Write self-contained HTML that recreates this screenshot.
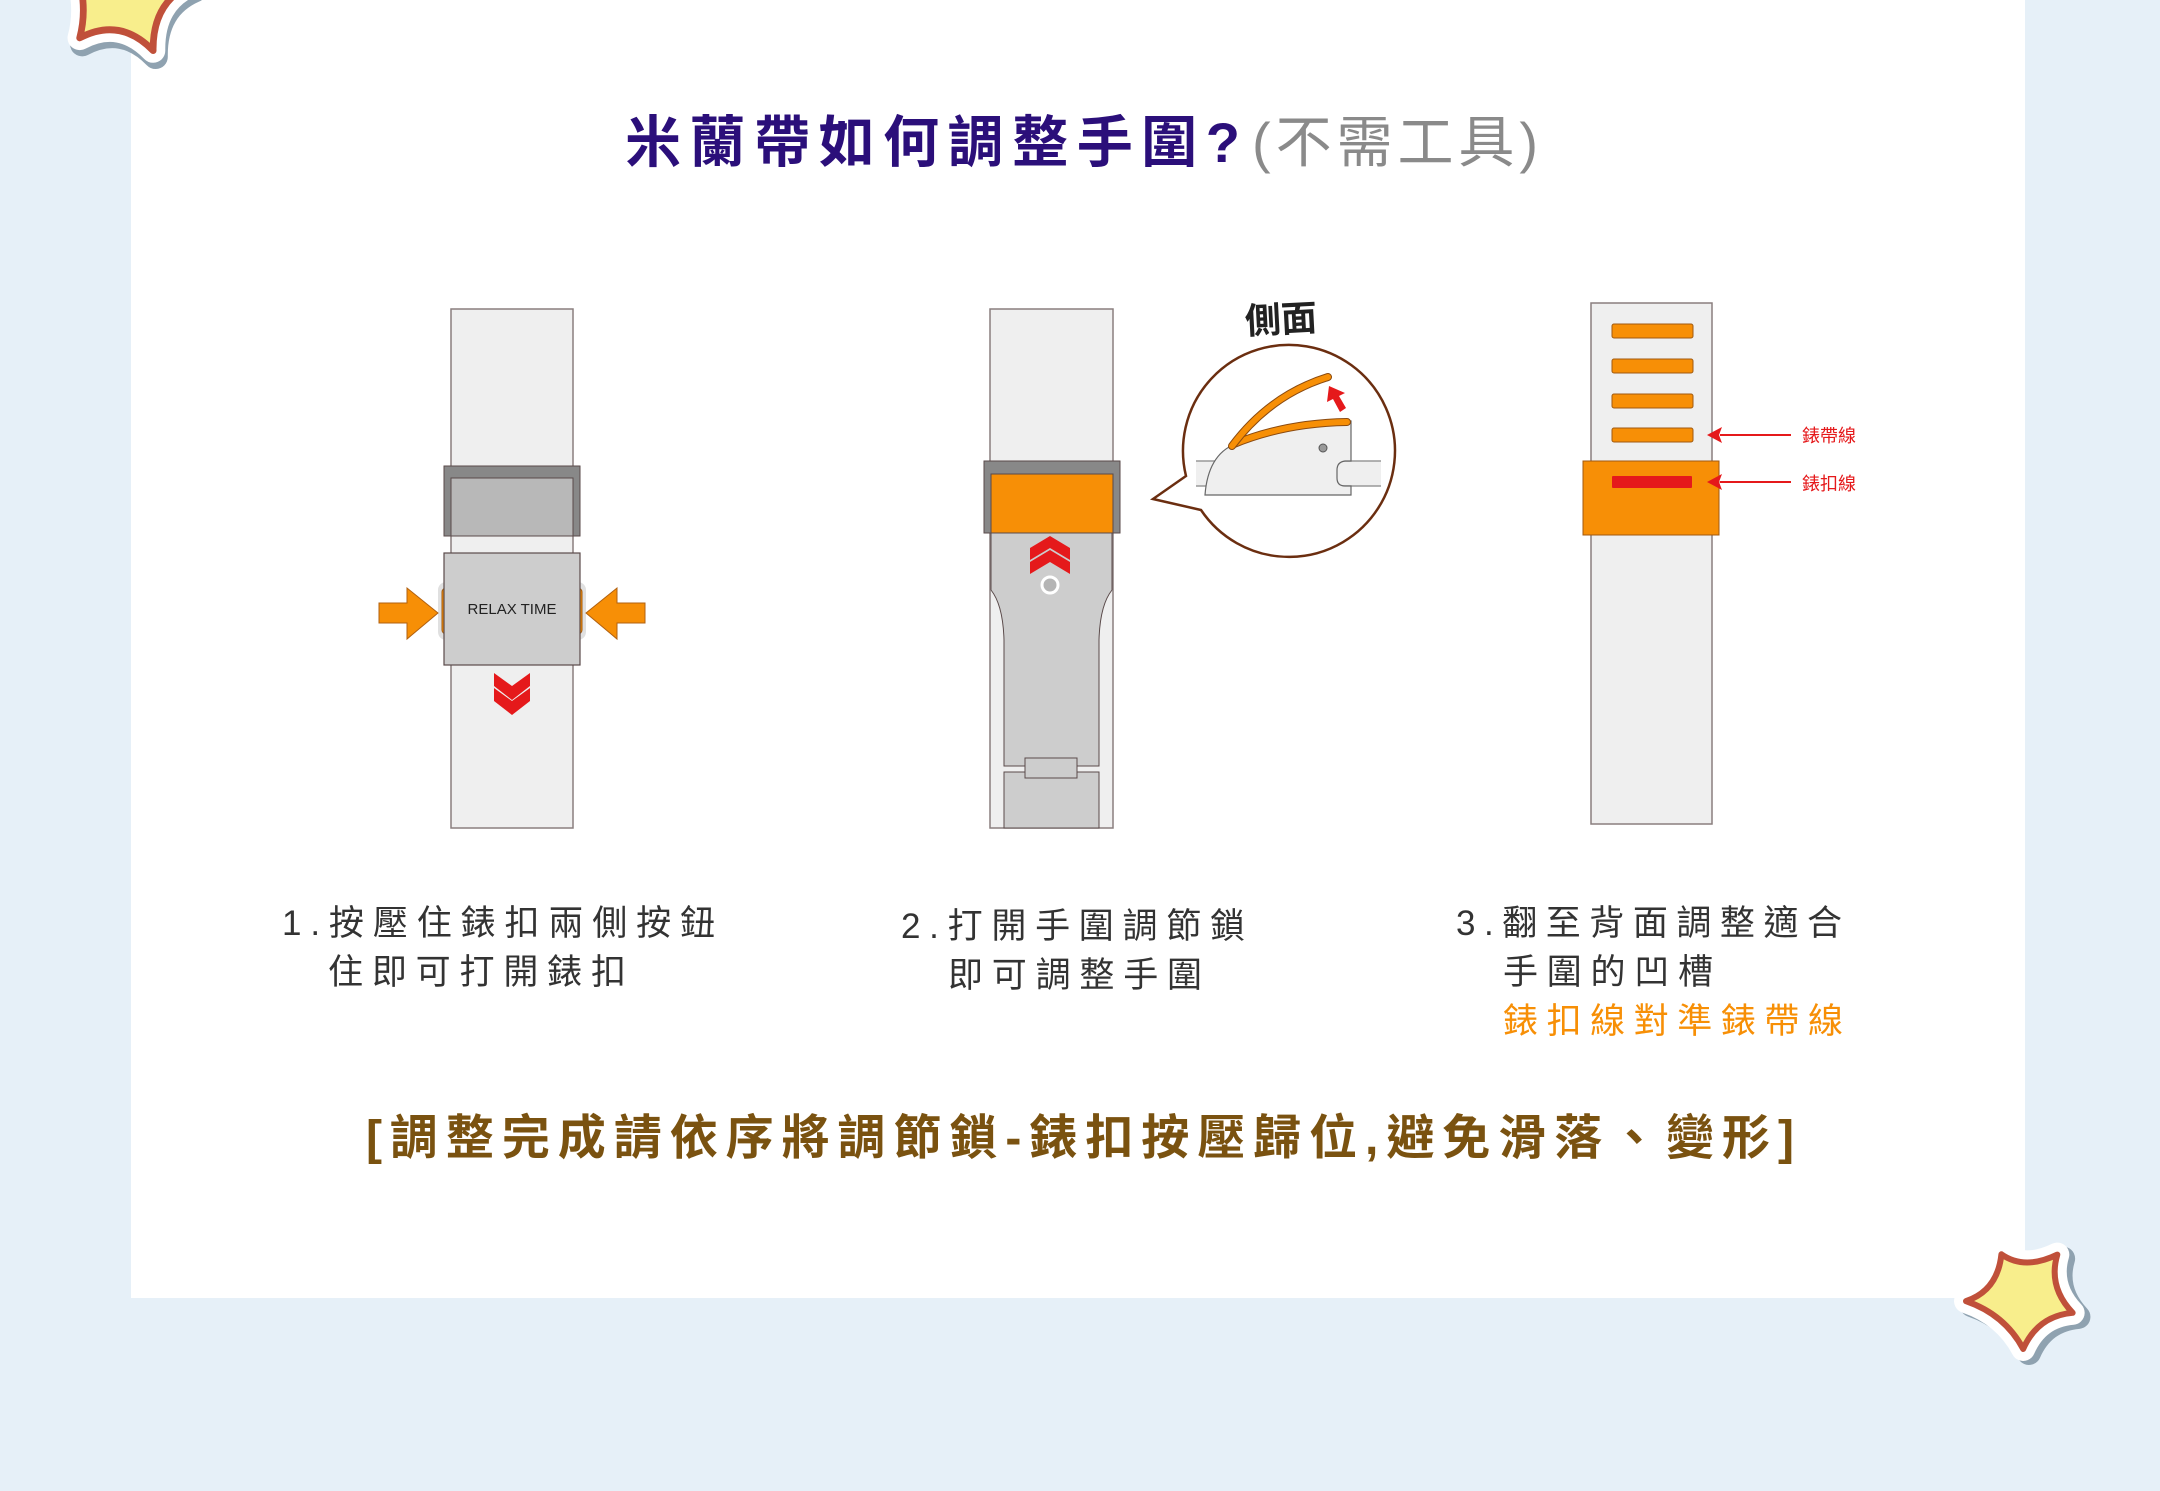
<!DOCTYPE html>
<html><head><meta charset="utf-8"><style>
html,body{margin:0;padding:0;background:#e6f0f8;}
svg{display:block;font-family:"Liberation Sans","Noto Sans CJK TC",sans-serif;}
</style></head><body>
<svg width="2160" height="1491" viewBox="0 0 2160 1491" xmlns="http://www.w3.org/2000/svg">
<rect x="0" y="0" width="2160" height="1491" fill="#e6f0f8"/>
<rect x="131" y="0" width="1894" height="1298" fill="#ffffff"/>

<!-- stars -->
<g transform="translate(128,-12) scale(1.35) rotate(15)">
<path d="M-55,-20 Q-20,-15 -5,-45 Q10,-15 45,-15 Q20,5 30,40 Q0,22 -25,45 Q-25,10 -55,-20Z" fill="#8fa2b0" transform="translate(3,4)" stroke="#8fa2b0" stroke-width="18" stroke-linejoin="round"/>
<path d="M-55,-20 Q-20,-15 -5,-45 Q10,-15 45,-15 Q20,5 30,40 Q0,22 -25,45 Q-25,10 -55,-20Z" fill="#fff" stroke="#fff" stroke-width="18" stroke-linejoin="round"/>
<path d="M-55,-20 Q-20,-15 -5,-45 Q10,-15 45,-15 Q20,5 30,40 Q0,22 -25,45 Q-25,10 -55,-20Z" fill="#f8ee8c" stroke="#c0503a" stroke-width="5" stroke-linejoin="round"/>
</g>
<g transform="translate(2024,1296) rotate(-10)">
<path d="M-58,-5 Q-25,-10 -15,-45 Q5,-25 40,-35 Q25,-5 45,25 Q10,22 -10,52 Q-22,15 -58,-5Z" fill="#8fa2b0" transform="translate(5,5)" stroke="#8fa2b0" stroke-width="24" stroke-linejoin="round"/>
<path d="M-58,-5 Q-25,-10 -15,-45 Q5,-25 40,-35 Q25,-5 45,25 Q10,22 -10,52 Q-22,15 -58,-5Z" fill="#fff" stroke="#fff" stroke-width="24" stroke-linejoin="round"/>
<path d="M-58,-5 Q-25,-10 -15,-45 Q5,-25 40,-35 Q25,-5 45,25 Q10,22 -10,52 Q-22,15 -58,-5Z" fill="#f8ee8c" stroke="#c0503a" stroke-width="6" stroke-linejoin="round"/>
</g>

<!-- title -->
<text x="625" y="162" font-size="56" font-weight="bold" fill="#2b0f7a" textLength="615" lengthAdjust="spacing">米蘭帶如何調整手圍?</text>
<text x="1252" y="162" font-size="56" fill="#8a8a8a" textLength="286" lengthAdjust="spacing">(不需工具)</text>

<!-- band 1 -->
<rect x="451" y="309" width="122" height="519" fill="#efefef" stroke="#8a7f7f" stroke-width="1.5"/>
<rect x="444" y="466" width="136" height="70" fill="#888" stroke="#5a4a4a" stroke-width="1"/>
<rect x="451" y="478" width="122" height="58" fill="#b8b8b8" stroke="#5a4a4a" stroke-width="1"/>
<rect x="438" y="582" width="18" height="58" rx="8" fill="#e0e0e0"/>
<rect x="568" y="582" width="18" height="58" rx="8" fill="#e0e0e0"/>
<rect x="442" y="588" width="10" height="46" rx="4" fill="#f78f06" stroke="#a05a10"/>
<rect x="572" y="588" width="10" height="46" rx="4" fill="#f78f06" stroke="#a05a10"/>
<rect x="444" y="553" width="136" height="112" fill="#cdcdcd" stroke="#5a4a4a" stroke-width="1.2"/>
<text x="512" y="614" font-size="15" fill="#222" text-anchor="middle" font-family="Liberation Sans,sans-serif">RELAX TIME</text>
<path d="M379,603 L407,603 L407,588 L438,613 L407,639 L407,623 L379,623Z" fill="#f78f06" stroke="#b06010" stroke-width="1"/>
<path d="M645,603 L617,603 L617,588 L586,613 L617,639 L617,623 L645,623Z" fill="#f78f06" stroke="#b06010" stroke-width="1"/>
<path d="M494,673 L512,686 L530,673 L530,686 L512,700 L494,686Z" fill="#e5191b"/>
<path d="M494,688 L512,701 L530,688 L530,701 L512,715 L494,701Z" fill="#e5191b"/>

<!-- band 2 -->
<rect x="990" y="309" width="123" height="519" fill="#efefef" stroke="#8a7f7f" stroke-width="1.5"/>
<path d="M991,533 L1112,533 L1112,590 Q1100,605 1099,640 L1099,766 L1004,766 L1004,640 Q1003,605 991,590Z" fill="#cdcdcd" stroke="#5a4a4a" stroke-width="1"/>
<rect x="1004" y="772" width="95" height="56" fill="#cdcdcd" stroke="#5a4a4a" stroke-width="1"/>
<rect x="1025" y="758" width="52" height="20" fill="#cdcdcd" stroke="#5a4a4a" stroke-width="1"/>
<rect x="984" y="461" width="136" height="72" fill="#888" stroke="#5a4a4a"/>
<rect x="991" y="474" width="122" height="59" fill="#f78f06" stroke="#5a4a4a"/>
<path d="M1030,548 L1050,536 L1070,548 L1070,560 L1050,548 L1030,560Z" fill="#e5191b"/>
<path d="M1030,562 L1050,550 L1070,562 L1070,574 L1050,562 L1030,574Z" fill="#e5191b"/>
<circle cx="1050" cy="585" r="8" fill="#b5b5b5" stroke="#fff" stroke-width="3"/>

<!-- bubble -->
<text x="1281" y="332" font-size="36" font-weight="bold" fill="#222" text-anchor="middle" transform="rotate(-3 1281 320)">側面</text>
<path d="M1186,476 A106,106 0 1 1 1201,510 L1153,499 Z" fill="#fff" stroke="#6b2e10" stroke-width="2.5"/>
<rect x="1196" y="461" width="185" height="25" fill="#efefef"/>
<line x1="1196" y1="461" x2="1381" y2="461" stroke="#999" stroke-width="1.5"/>
<line x1="1196" y1="486" x2="1381" y2="486" stroke="#999" stroke-width="1.5"/>
<path d="M1205,495 Q1208,455 1235,444 Q1290,423 1351,421 L1351,461 L1345,461 Q1337,462 1337,470 L1337,478 Q1337,486 1345,486 L1351,486 L1351,495 Z" fill="#efefef" stroke="#666" stroke-width="1.2"/>
<circle cx="1323" cy="448" r="4" fill="#999" stroke="#555"/>
<path d="M1234,444 Q1285,423 1347,422" fill="none" stroke="#8a4a10" stroke-width="8" stroke-linecap="round"/>
<path d="M1234,444 Q1285,423 1347,422" fill="none" stroke="#f78f06" stroke-width="6" stroke-linecap="round"/>
<path d="M1232,446 Q1270,395 1328,377" fill="none" stroke="#8a4a10" stroke-width="8" stroke-linecap="round"/>
<path d="M1232,446 Q1270,395 1328,377" fill="none" stroke="#f78f06" stroke-width="6" stroke-linecap="round"/>
<path d="M1329,386 L1327,402 L1333,399 L1340,412 L1346,408 L1339,396 L1345,393Z" fill="#e5191b"/>

<!-- band 3 -->
<rect x="1591" y="303" width="121" height="521" fill="#efefef" stroke="#8a7f7f" stroke-width="1.5"/>
<rect x="1612" y="324" width="81" height="14" rx="2" fill="#f78f06" stroke="#a05a10"/>
<rect x="1612" y="359" width="81" height="14" rx="2" fill="#f78f06" stroke="#a05a10"/>
<rect x="1612" y="394" width="81" height="14" rx="2" fill="#f78f06" stroke="#a05a10"/>
<rect x="1612" y="428" width="81" height="14" rx="2" fill="#f78f06" stroke="#a05a10"/>
<rect x="1583" y="461" width="136" height="74" fill="#f78f06" stroke="#a05a10"/>
<rect x="1612" y="476" width="80" height="12" rx="1" fill="#e5191b"/>
<line x1="1720" y1="435" x2="1791" y2="435" stroke="#e5191b" stroke-width="2"/>
<path d="M1707,435 L1722,427 L1719,435 L1722,443Z" fill="#e5191b"/>
<line x1="1720" y1="482" x2="1791" y2="482" stroke="#e5191b" stroke-width="2"/>
<path d="M1707,482 L1722,474 L1719,482 L1722,490Z" fill="#e5191b"/>
<text x="1802" y="442" font-size="18" fill="#e5191b">錶帶線</text>
<text x="1802" y="490" font-size="18" fill="#e5191b">錶扣線</text>

<!-- captions -->
<g font-size="35" fill="#333">
<text x="282" y="935" textLength="433" lengthAdjust="spacing">1.按壓住錶扣兩側按鈕</text>
<text x="328" y="984" textLength="298" lengthAdjust="spacing">住即可打開錶扣</text>
<text x="901" y="938" textLength="344" lengthAdjust="spacing">2.打開手圍調節鎖</text>
<text x="948" y="987" textLength="254" lengthAdjust="spacing">即可調整手圍</text>
<text x="1456" y="935" textLength="386" lengthAdjust="spacing">3.翻至背面調整適合</text>
<text x="1503" y="984" textLength="210" lengthAdjust="spacing">手圍的凹槽</text>
<text x="1503" y="1033" textLength="340" lengthAdjust="spacing" fill="#f78f06">錶扣線對準錶帶線</text>
</g>
<text x="366" y="1154" font-size="48" font-weight="bold" fill="#7a5210" textLength="1428" lengthAdjust="spacing">[調整完成請依序將調節鎖-錶扣按壓歸位,避免滑落、變形]</text>
</svg>
</body></html>
